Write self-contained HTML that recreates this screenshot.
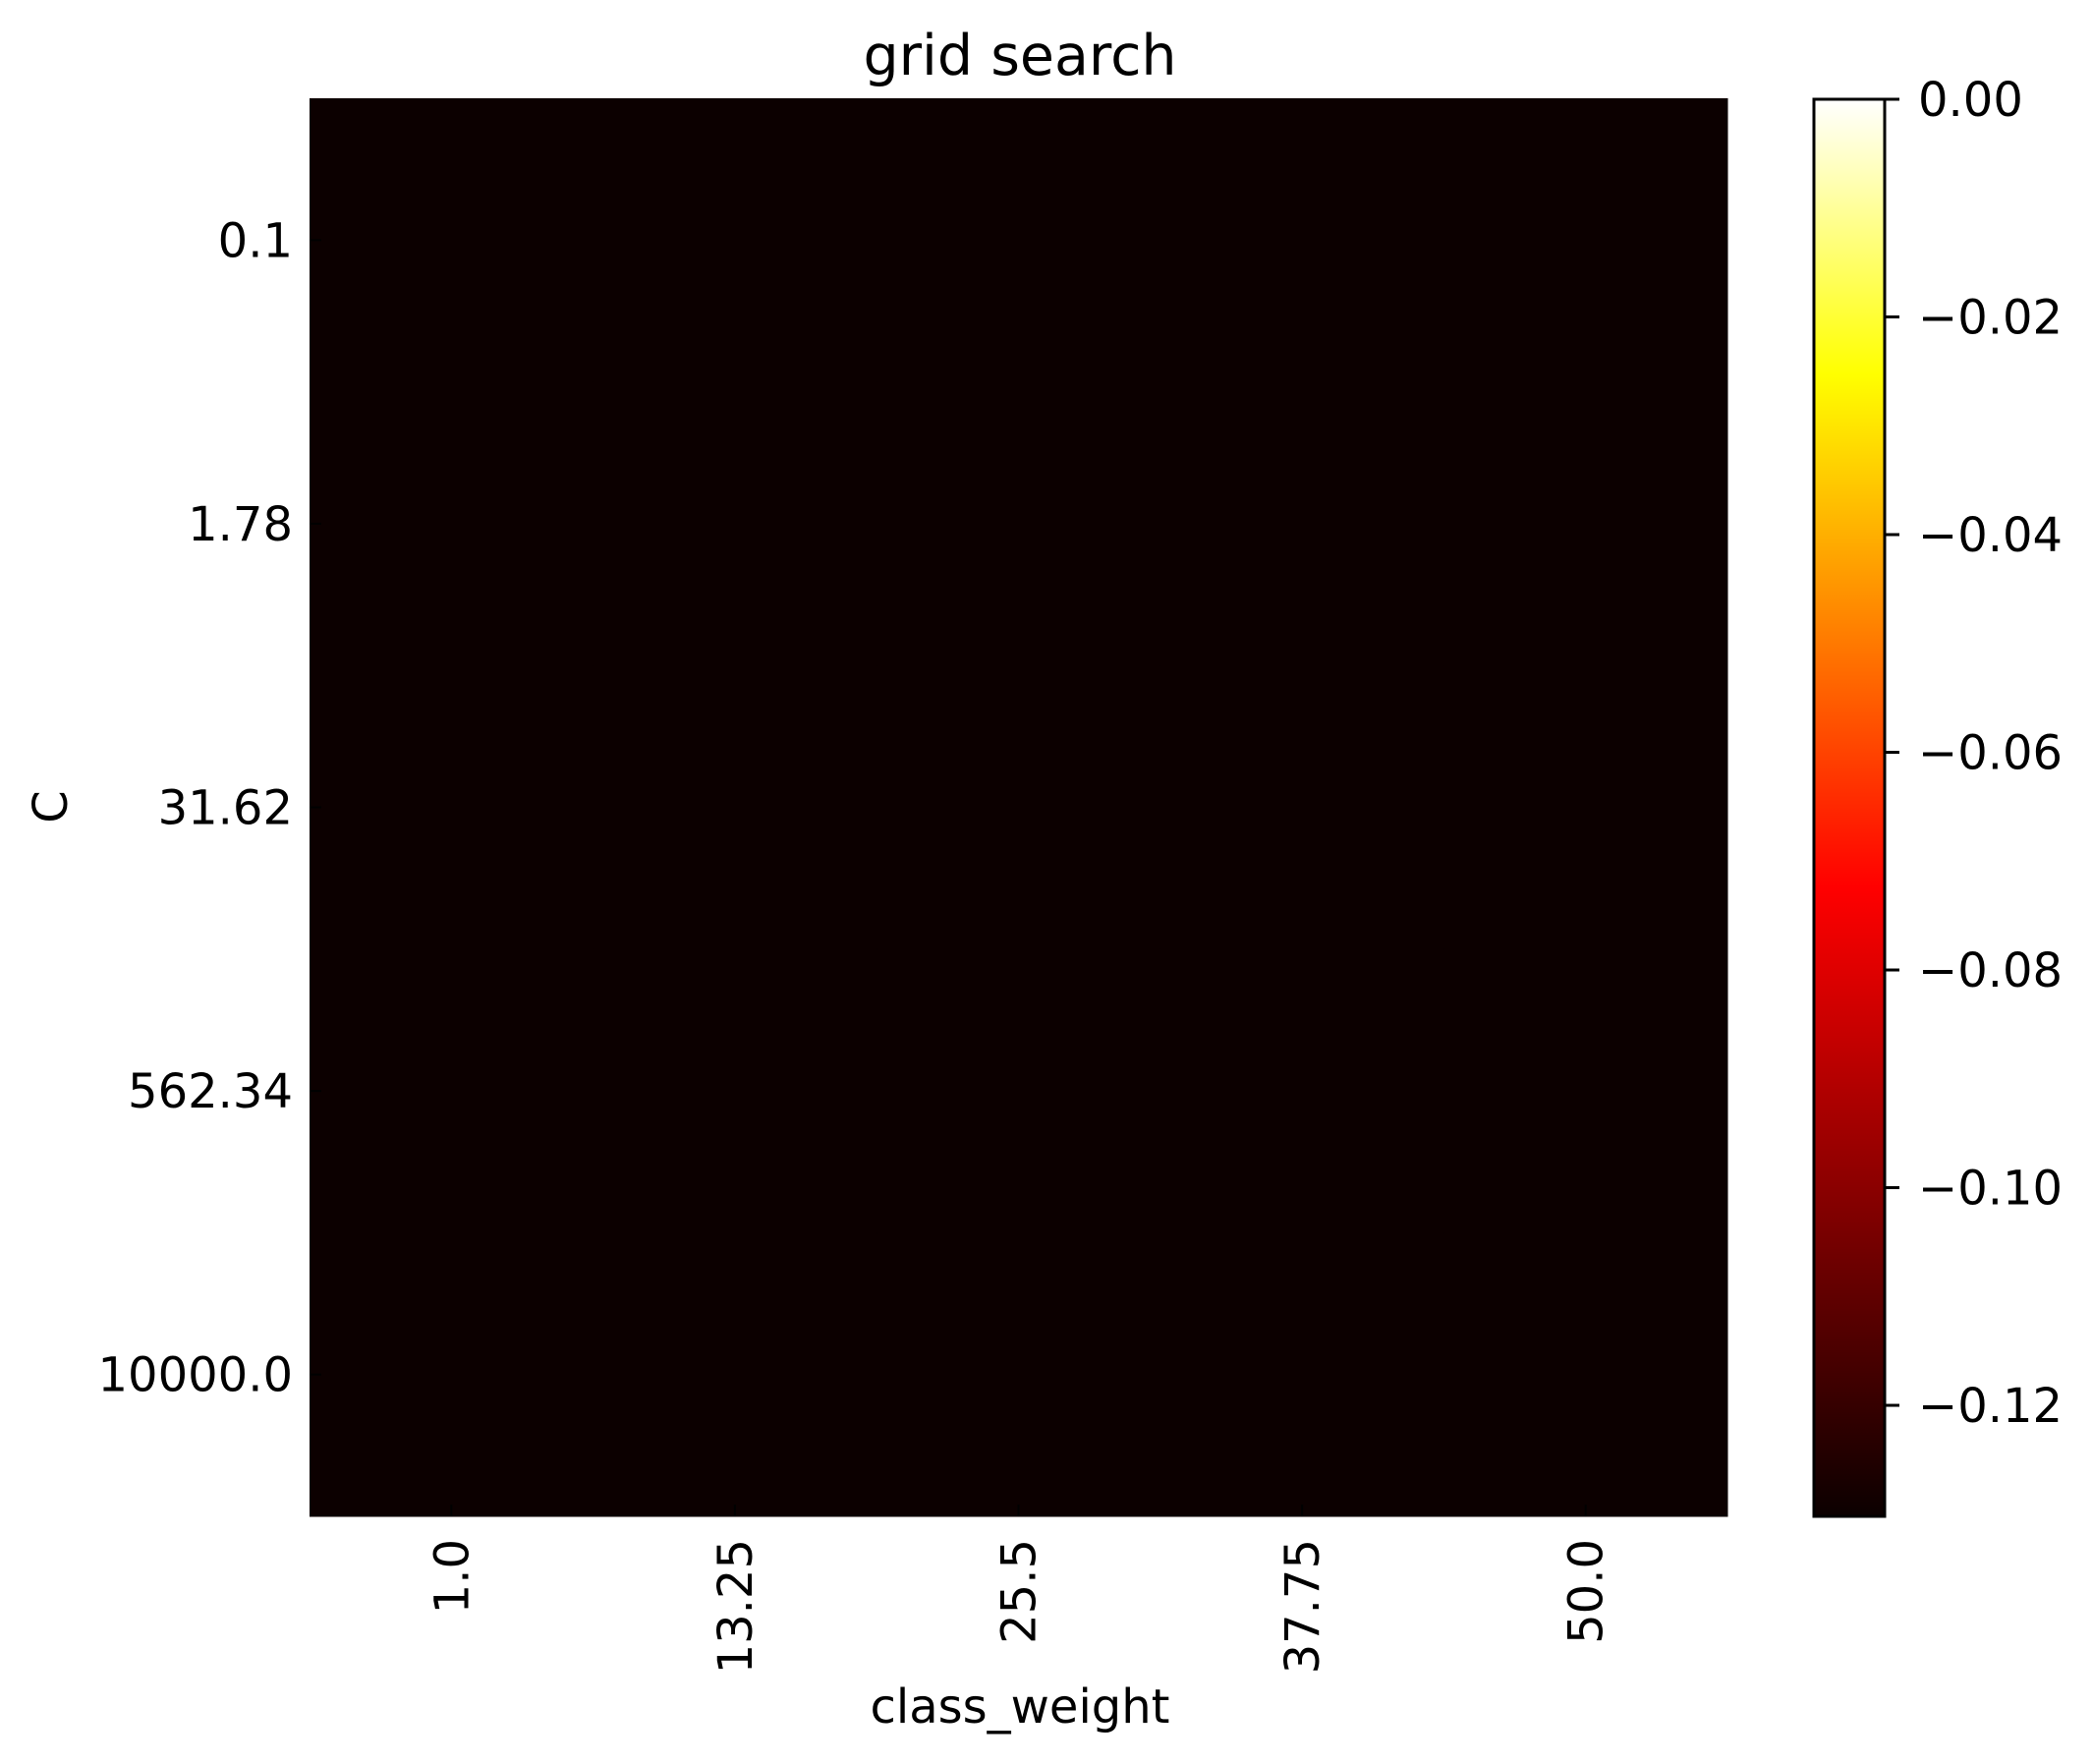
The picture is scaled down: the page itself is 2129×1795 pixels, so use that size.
<!DOCTYPE html>
<html><head><meta charset="utf-8"><style>
html,body{margin:0;padding:0;background:#fff;}
svg{display:block;font-family:"DejaVu Sans","Liberation Sans",sans-serif;}
</style></head><body>
<svg id="chart" width="2129" height="1795" viewBox="0 0 2129 1795" xmlns="http://www.w3.org/2000/svg">
<defs>
<linearGradient id="hot" x1="0" y1="1" x2="0" y2="0">
<stop offset="0" stop-color="#0b0000"/>
<stop offset="0.444" stop-color="#ff0000"/>
<stop offset="0.806" stop-color="#ffff00"/>
<stop offset="1" stop-color="#ffffff"/>
</linearGradient>
</defs>
<text x="1038" y="76" font-size="57" text-anchor="middle">grid search</text>
<g id="cells"></g>
<g id="axes"></g>
<text x="1038" y="1753" font-size="48" text-anchor="middle">class_weight</text>
<text transform="translate(68,821) rotate(-90)" font-size="48" text-anchor="middle">C</text>
<rect x="1846" y="101" width="72" height="1442" fill="url(#hot)" stroke="#000" stroke-width="3"/>
<g id="cbar"></g>
</svg>
<script>
const xCategories = ["1.0","13.25","25.5","37.75","50.0"];
const yCategories = ["0.1","1.78","31.62","562.34","10000.0"];
const scores = [
 [-0.13,-0.13,-0.13,-0.13,-0.13],
 [-0.13,-0.13,-0.13,-0.13,-0.13],
 [-0.13,-0.13,-0.13,-0.13,-0.13],
 [-0.13,-0.13,-0.13,-0.13,-0.13],
 [-0.13,-0.13,-0.13,-0.13,-0.13]
];
const cbarTicks = [0,-0.02,-0.04,-0.06,-0.08,-0.10,-0.12];
const cbarTickLabels = ["0.00","\u22120.02","\u22120.04","\u22120.06","\u22120.08","\u22120.10","\u22120.12"];
const vmin = -0.1302, vmax = 0;

const NS="http://www.w3.org/2000/svg";
const L=315,R=1758,T=100,B=1543;
const cw=(R-L)/xCategories.length, ch=(B-T)/yCategories.length;
const xPos=i=>L+i*cw, yPos=j=>T+j*ch;
const cbY=v=>B-(v-vmin)/(vmax-vmin)*(B-101);
function hot(v){
  let t=(v-vmin)/(vmax-vmin); t=Math.max(0,Math.min(1,t));
  const r=Math.min(1,0.0431+t/0.444*(1-0.0431));
  const g=t<0.444?0:Math.min(1,(t-0.444)/(0.806-0.444));
  const b=t<0.806?0:(t-0.806)/(1-0.806);
  return `rgb(${Math.round(r*255)},${Math.round(g*255)},${Math.round(b*255)})`;
}
function mk(tag,attrs,parent){const e=document.createElementNS(NS,tag);for(const k in attrs)e.setAttribute(k,attrs[k]);parent.appendChild(e);return e;}
const cells=document.getElementById('cells');
scores.forEach((row,j)=>row.forEach((v,i)=>{
  const r=mk('rect',{x:xPos(i),y:yPos(j),width:cw+0.5,height:ch+0.5,fill:hot(v)},cells);
  
  
}));
const axes=document.getElementById('axes');
xCategories.forEach((c,i)=>{
  const x=xPos(i)+cw/2;
  const t=mk('line',{x1:x,y1:B,x2:x,y2:B-12,stroke:'#000','stroke-width':2},axes);
  
  
  const tx=mk('text',{transform:`translate(${x+17},1566) rotate(-90)`,'font-size':48,'text-anchor':'end'},axes);
  tx.textContent=c;
  
  
});
yCategories.forEach((c,j)=>{
  const y=yPos(j)+ch/2;
  const t=mk('line',{x1:L,y1:y,x2:L+12,y2:y,stroke:'#000','stroke-width':2},axes);
  
  
  const tx=mk('text',{x:298,y:y+17,'font-size':48,'text-anchor':'end'},axes);
  tx.textContent=c;
  
  
});
const cbar=document.getElementById('cbar');
cbarTicks.forEach((v,k)=>{
  const y=cbY(v);
  const t=mk('line',{x1:1918,y1:y,x2:1933,y2:y,stroke:'#000','stroke-width':3},cbar);
  
  
  const tx=mk('text',{x:1952,y:y+17,'font-size':48},cbar);
  tx.textContent=cbarTickLabels[k];
  
  
});
</script>
</body></html>
